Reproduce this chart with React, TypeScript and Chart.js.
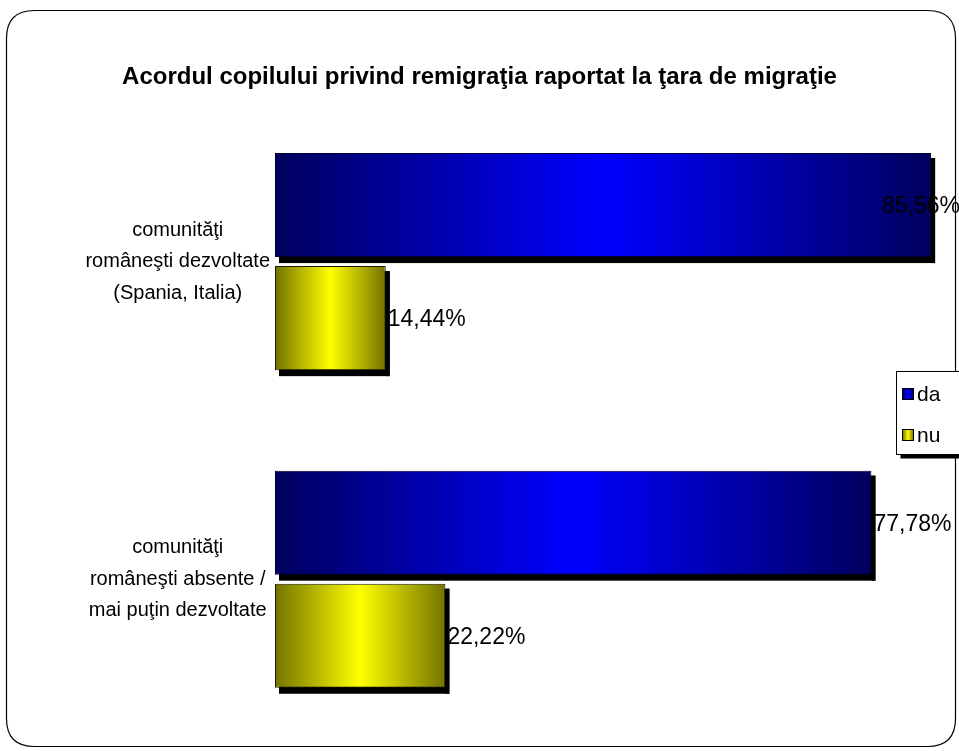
import React, { useEffect, useRef } from "react";
import { Chart, registerables } from "chart.js";

Chart.register(...registerables);

const TITLE = "Acordul copilului privind remigraţia raportat la ţara de migraţie";
const CATEGORIES: string[][] = [
  ["comunităţi", "româneşti dezvoltate", "(Spania, Italia)"],
  ["comunităţi", "româneşti absente /", "mai puţin dezvoltate"],
];
const SERIES_NAMES = ["da", "nu"];
const DA_VALUES = [85.56, 77.78];
const NU_VALUES = [14.44, 22.22];
const X_MAX = 89.2;

const FONT = "'Liberation Sans', Arial, sans-serif";
const W = 959;
const H = 751;

const COLORS = [
  { dark: "#00005e", bright: "#0000ff", border: "#000030" },
  { dark: "#737300", bright: "#ffff00", border: "#1a1a00" },
];

function fmt(v: number) {
  return v.toFixed(2).replace(".", ",") + "%";
}

function roundRect(ctx: CanvasRenderingContext2D, x: number, y: number, w: number, h: number, r: number) {
  ctx.beginPath();
  ctx.moveTo(x + r, y);
  ctx.lineTo(x + w - r, y);
  ctx.quadraticCurveTo(x + w, y, x + w, y + r);
  ctx.lineTo(x + w, y + h - r);
  ctx.quadraticCurveTo(x + w, y + h, x + w - r, y + h);
  ctx.lineTo(x + r, y + h);
  ctx.quadraticCurveTo(x, y + h, x, y + h - r);
  ctx.lineTo(x, y + r);
  ctx.quadraticCurveTo(x, y, x + r, y);
  ctx.closePath();
}

function barBox(bar: any) {
  const p = bar.getProps(["x", "y", "base", "height"], true);
  const left = Math.min(p.x, p.base);
  const right = Math.max(p.x, p.base);
  const top = p.y - p.height / 2;
  return { left, right, top, height: p.height };
}

const framePlugin = {
  id: "frame",
  beforeDraw(chart: any) {
    const ctx = chart.ctx as CanvasRenderingContext2D;
    ctx.save();
    ctx.fillStyle = "#ffffff";
    ctx.fillRect(0, 0, chart.width, chart.height);
    roundRect(ctx, 6.5, 10.5, 949, 736, 28);
    ctx.strokeStyle = "#000000";
    ctx.lineWidth = 1.2;
    ctx.stroke();
    ctx.restore();
  },
};

const shadowPlugin = {
  id: "barShadow",
  beforeDatasetsDraw(chart: any) {
    const ctx = chart.ctx as CanvasRenderingContext2D;
    ctx.save();
    ctx.fillStyle = "#000000";
    chart.data.datasets.forEach((_ds: any, di: number) => {
      chart.getDatasetMeta(di).data.forEach((bar: any) => {
        const b = barBox(bar);
        ctx.fillRect(b.left + 4, b.top + 5, b.right - b.left, b.height + 1);
      });
    });
    ctx.restore();
  },
};

const labelPlugin = {
  id: "valueLabels",
  afterDatasetsDraw(chart: any) {
    const ctx = chart.ctx as CanvasRenderingContext2D;
    ctx.save();
    ctx.font = `23px ${FONT}`;
    ctx.fillStyle = "#000000";
    ctx.textBaseline = "middle";
    ctx.textAlign = "left";
    chart.data.datasets.forEach((ds: any, di: number) => {
      const meta = chart.getDatasetMeta(di);
      meta.data.forEach((bar: any, i: number) => {
        const text = fmt(ds.data[i]);
        const tw = ctx.measureText(text).width;
        let x = bar.x + 2;
        if (x + tw > chart.width + 1) x = chart.width + 1 - tw;
        ctx.fillText(text, x, bar.y + 2);
      });
    });
    // right-hand shadow strip sits over the labels, as in the original
    chart.data.datasets.forEach((_ds: any, di: number) => {
      chart.getDatasetMeta(di).data.forEach((bar: any) => {
        const b = barBox(bar);
        ctx.fillRect(b.right, b.top + 5, 4, b.height + 1);
      });
    });
    ctx.restore();
  },
};

const legendPlugin = {
  id: "customLegend",
  afterDraw(chart: any) {
    const ctx = chart.ctx as CanvasRenderingContext2D;
    const lx = 896.5, ly = 371.5, lw = 64, lh = 83;
    ctx.save();
    ctx.fillStyle = "#000000";
    ctx.fillRect(lx + 4, ly + 4, lw, lh);
    ctx.fillStyle = "#ffffff";
    ctx.fillRect(lx, ly, lw, lh);
    ctx.strokeStyle = "#000000";
    ctx.lineWidth = 1;
    ctx.strokeRect(lx, ly, lw, lh);
    ctx.font = `21px ${FONT}`;
    ctx.textBaseline = "middle";
    ctx.textAlign = "left";
    SERIES_NAMES.forEach((name, i) => {
      const cy = ly + 23 + i * 41;
      const sx = 902.5, sy = cy - 6;
      const g = ctx.createLinearGradient(sx, 0, sx + 11, 0);
      g.addColorStop(0, COLORS[i].dark);
      g.addColorStop(0.5, COLORS[i].bright);
      g.addColorStop(1, COLORS[i].dark);
      ctx.fillStyle = g;
      ctx.fillRect(sx, sy, 11, 11);
      ctx.strokeStyle = "#000000";
      ctx.strokeRect(sx, sy, 11, 11);
      ctx.fillStyle = "#000000";
      ctx.fillText(name, 917, cy + 1);
    });
    ctx.restore();
  },
};

function gradientFor(idx: number) {
  return (context: any) => {
    const chart = context.chart;
    const xs = chart.scales?.x;
    if (!xs || context.type !== "data") return COLORS[idx].bright;
    const v = context.raw as number;
    const x0 = xs.getPixelForValue(0);
    const x1 = xs.getPixelForValue(v);
    if (!Number.isFinite(x0) || !Number.isFinite(x1) || x1 === x0) return COLORS[idx].bright;
    const g = chart.ctx.createLinearGradient(x0, 0, x1, 0);
    g.addColorStop(0, COLORS[idx].dark);
    g.addColorStop(0.5, COLORS[idx].bright);
    g.addColorStop(1, COLORS[idx].dark);
    return g;
  };
}

export default function App() {
  const ref = useRef<HTMLCanvasElement>(null);
  useEffect(() => {
    document.body.style.margin = "0";
    const canvas = ref.current!;
    const chart = new Chart(canvas, {
      type: "bar",
      data: {
        labels: CATEGORIES,
        datasets: [
          {
            label: SERIES_NAMES[0],
            data: DA_VALUES,
            backgroundColor: gradientFor(0),
            borderColor: COLORS[0].border,
            borderWidth: 1,
            borderSkipped: false,
            barPercentage: 0.92,
            categoryPercentage: 0.712,
          },
          {
            label: SERIES_NAMES[1],
            data: NU_VALUES,
            backgroundColor: gradientFor(1),
            borderColor: COLORS[1].border,
            borderWidth: 1,
            borderSkipped: false,
            barPercentage: 0.92,
            categoryPercentage: 0.712,
          },
        ],
      },
      options: {
        indexAxis: "y",
        responsive: false,
        animation: false,
        layout: { padding: { top: 0, right: 0, bottom: 13, left: 0 } },
        plugins: {
          legend: { display: false },
          tooltip: { enabled: false },
          title: {
            display: true,
            text: TITLE,
            color: "#000000",
            font: { family: FONT, size: 24, weight: "bold", lineHeight: 1.2 },
            padding: { top: 63, bottom: 11 },
          },
        },
        scales: {
          x: {
            display: false,
            min: 0,
            max: X_MAX,
          },
          y: {
            grid: { display: false, drawTicks: false },
            border: { display: false },
            ticks: {
              color: "#000000",
              font: { family: FONT, size: 20, lineHeight: 1.58 },
              crossAlign: "center",
              padding: 5,
            },
            afterFit: (scale: any) => {
              scale.width = 275;
              scale.paddingTop = 0;
              scale.paddingBottom = 0;
            },
          },
        },
      },
      plugins: [framePlugin, shadowPlugin, labelPlugin, legendPlugin],
    });
    return () => chart.destroy();
  }, []);
  return (
    <div style={{ width: W, height: H }}>
      <canvas ref={ref} width={W} height={H} />
    </div>
  );
}
